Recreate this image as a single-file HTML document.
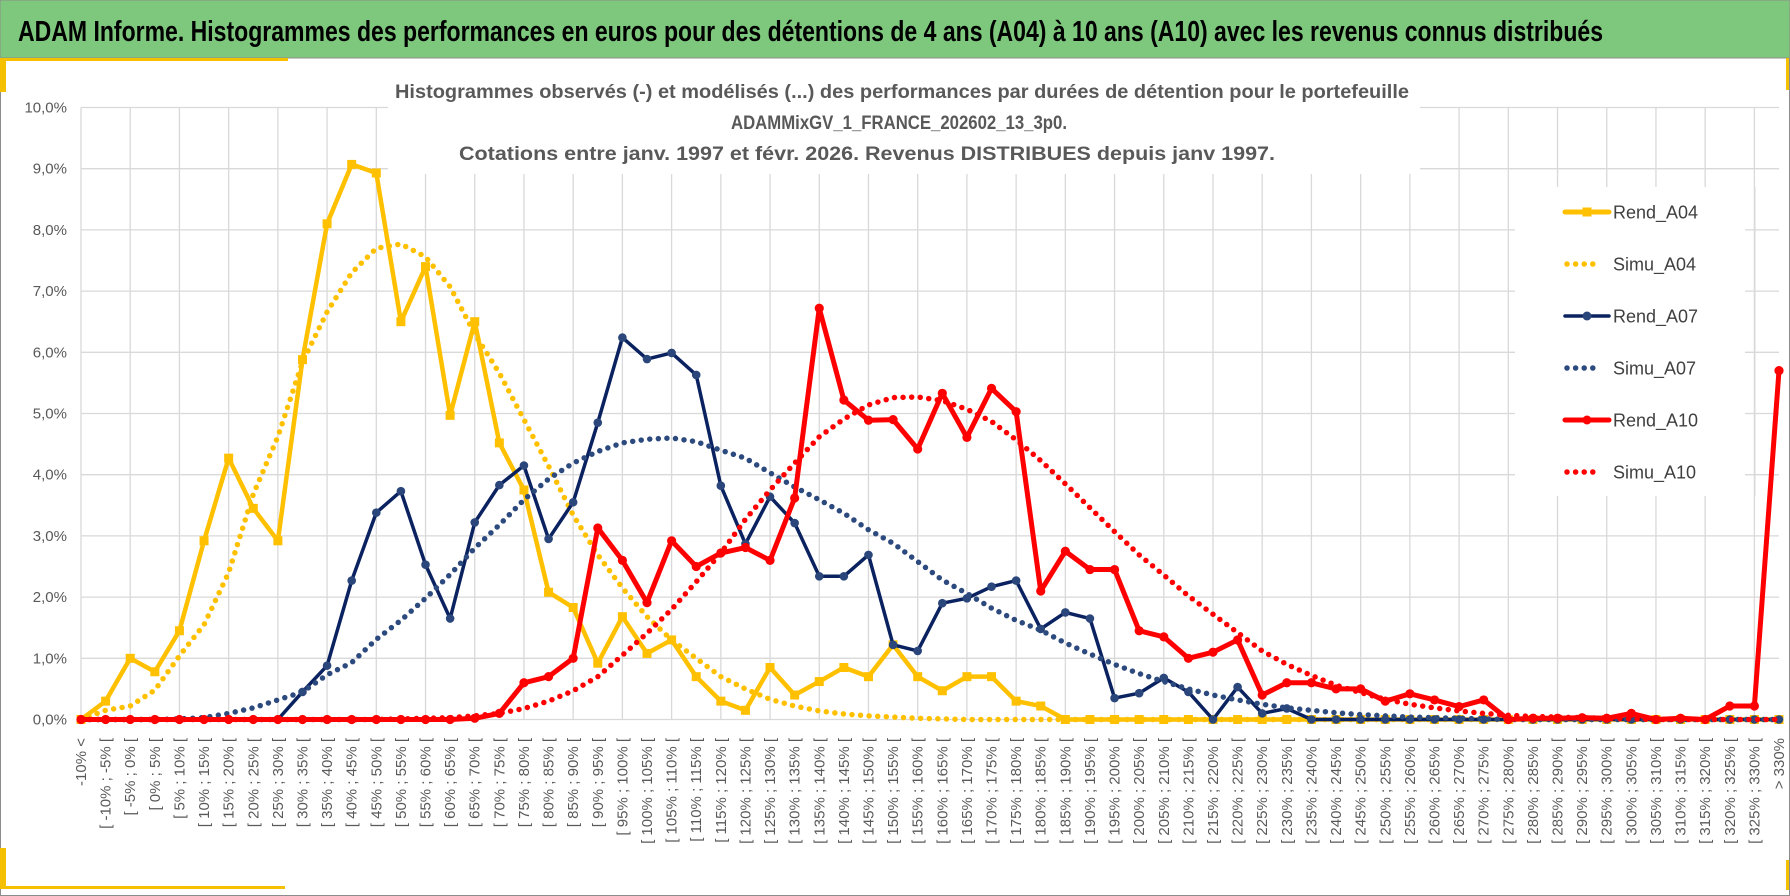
<!DOCTYPE html>
<html><head><meta charset="utf-8"><style>
html,body{margin:0;padding:0;background:#fff;}
svg{display:block;font-family:"Liberation Sans",sans-serif;}
</style></head><body>
<svg id="chart" width="1790" height="896" viewBox="0 0 1790 896">
  <rect x="0.5" y="0.5" width="1789" height="895" fill="#fff" stroke="#8c8c8c"/>
  <rect x="0" y="0" width="1790" height="58" fill="#7ec87d" stroke="#8c8c8c"/>
  <text x="18" y="41" font-size="29" font-weight="bold" fill="#000" textLength="1585" lengthAdjust="spacingAndGlyphs">ADAM Informe. Histogrammes des performances en euros pour des détentions de 4 ans (A04) à 10 ans (A10) avec les revenus connus distribués</text>
  <rect x="0" y="58" width="288" height="3" fill="#f5c000"/>
  <rect x="0" y="58" width="6" height="34" fill="#f5c000"/>
  <rect x="0" y="886" width="285" height="3" fill="#f5c000"/>
  <rect x="0" y="848" width="6" height="40" fill="#f5c000"/>
  <rect x="1786" y="58" width="3" height="32" fill="#f5c000"/>
  <rect x="1786" y="860" width="3" height="30" fill="#f5c000"/>
  <g id="grid"></g>
  <g id="yticks"></g>
  <g id="xticks"></g>
  <rect x="388" y="76" width="1032" height="98" fill="#fff"/>
  <g font-size="19" font-weight="bold" fill="#595959" text-anchor="middle">
    <text x="902" y="98" textLength="1014" lengthAdjust="spacingAndGlyphs">Histogrammes observés (-) et modélisés (...) des performances par durées de détention pour le portefeuille</text>
    <text x="899" y="129" textLength="336" lengthAdjust="spacingAndGlyphs">ADAMMixGV_1_FRANCE_202602_13_3p0.</text>
    <text x="867" y="160" textLength="816" lengthAdjust="spacingAndGlyphs">Cotations entre janv. 1997 et févr. 2026. Revenus DISTRIBUES depuis janv 1997.</text>
  </g>
  <rect x="1515" y="187" width="230" height="309" fill="#fff"/>
  <line x1="1755" y1="187" x2="1755" y2="496" stroke="#d9d9d9" stroke-width="1"/>
  <g id="series"></g>
  <g id="legend"></g>
</svg>
<script>
const categories = ["-10% <","[ -10% ; -5% [","[ -5% ; 0% [","[ 0% ; 5% [","[ 5% ; 10% [","[ 10% ; 15% [","[ 15% ; 20% [","[ 20% ; 25% [","[ 25% ; 30% [","[ 30% ; 35% [","[ 35% ; 40% [","[ 40% ; 45% [","[ 45% ; 50% [","[ 50% ; 55% [","[ 55% ; 60% [","[ 60% ; 65% [","[ 65% ; 70% [","[ 70% ; 75% [","[ 75% ; 80% [","[ 80% ; 85% [","[ 85% ; 90% [","[ 90% ; 95% [","[ 95% ; 100% [","[ 100% ; 105% [","[ 105% ; 110% [","[ 110% ; 115% [","[ 115% ; 120% [","[ 120% ; 125% [","[ 125% ; 130% [","[ 130% ; 135% [","[ 135% ; 140% [","[ 140% ; 145% [","[ 145% ; 150% [","[ 150% ; 155% [","[ 155% ; 160% [","[ 160% ; 165% [","[ 165% ; 170% [","[ 170% ; 175% [","[ 175% ; 180% [","[ 180% ; 185% [","[ 185% ; 190% [","[ 190% ; 195% [","[ 195% ; 200% [","[ 200% ; 205% [","[ 205% ; 210% [","[ 210% ; 215% [","[ 215% ; 220% [","[ 220% ; 225% [","[ 225% ; 230% [","[ 230% ; 235% [","[ 235% ; 240% [","[ 240% ; 245% [","[ 245% ; 250% [","[ 250% ; 255% [","[ 255% ; 260% [","[ 260% ; 265% [","[ 265% ; 270% [","[ 270% ; 275% [","[ 275% ; 280% [","[ 280% ; 285% [","[ 285% ; 290% [","[ 290% ; 295% [","[ 295% ; 300% [","[ 300% ; 305% [","[ 305% ; 310% [","[ 310% ; 315% [","[ 315% ; 320% [","[ 320% ; 325% [","[ 325% ; 330% [","> 330%"];
const yTicks = [0,1,2,3,4,5,6,7,8,9,10];
const yTickLabels = ["0,0%","1,0%","2,0%","3,0%","4,0%","5,0%","6,0%","7,0%","8,0%","9,0%","10,0%"];
const rendA04 = [0,0.3,1.0,0.78,1.45,2.92,4.27,3.45,2.92,5.88,8.1,9.07,8.93,6.5,7.4,4.97,6.5,4.52,3.75,2.08,1.83,0.92,1.68,1.08,1.3,0.7,0.3,0.15,0.85,0.4,0.62,0.85,0.7,1.22,0.7,0.47,0.7,0.7,0.3,0.22,0,0,0,0,0,0,0,0,0,0,0,0,0,0,0,0,0,0,0,0,0,0,0,0,0,0,0,0,0,0];
const simuA04 = [0,0.15,0.22,0.48,1.04,1.55,2.4,3.68,4.62,5.84,6.66,7.3,7.7,7.77,7.56,7.07,6.3,5.66,4.9,4.14,3.34,2.69,2.15,1.68,1.3,1.0,0.7,0.5,0.33,0.22,0.14,0.09,0.06,0.04,0.02,0.01,0,0,0,0,0,0,0,0,0,0,0,0,0,0,0,0,0,0,0,0,0,0,0,0,0,0,0,0,0,0,0,0,0,0];
const rendA07 = [0,0,0,0,0,0,0,0,0,0.45,0.88,2.27,3.38,3.73,2.53,1.65,3.22,3.83,4.15,2.95,3.55,4.85,6.24,5.89,5.99,5.63,3.82,2.87,3.64,3.21,2.34,2.34,2.69,1.22,1.12,1.9,1.98,2.17,2.27,1.48,1.75,1.65,0.35,0.43,0.68,0.45,0,0.53,0.1,0.18,0,0,0,0,0,0,0,0,0,0,0,0,0,0,0,0,0,0,0,0];
const simuA07 = [0,0,0,0,0.01,0.03,0.1,0.19,0.32,0.45,0.73,0.93,1.31,1.62,1.98,2.37,2.8,3.18,3.59,3.93,4.19,4.38,4.52,4.58,4.6,4.54,4.4,4.27,4.03,3.8,3.59,3.37,3.1,2.88,2.58,2.28,2.06,1.82,1.62,1.46,1.25,1.07,0.9,0.75,0.62,0.5,0.4,0.32,0.25,0.19,0.15,0.11,0.08,0.06,0.04,0.03,0.02,0.01,0,0,0,0,0,0,0,0,0,0,0,0];
const rendA10 = [0,0,0,0,0,0,0,0,0,0,0,0,0,0,0,0,0.02,0.1,0.6,0.7,1.0,3.13,2.6,1.91,2.92,2.5,2.72,2.81,2.6,3.62,6.72,5.22,4.89,4.9,4.42,5.33,4.61,5.41,5.03,2.1,2.75,2.45,2.45,1.45,1.35,1.0,1.1,1.3,0.4,0.6,0.6,0.5,0.5,0.3,0.42,0.32,0.21,0.32,0,0.02,0.02,0.03,0.02,0.1,0,0.02,0,0.22,0.22,5.7];
const simuA10 = [0,0,0,0,0,0,0,0,0,0,0,0,0,0.01,0.02,0.03,0.06,0.1,0.18,0.3,0.47,0.7,1.05,1.41,1.8,2.25,2.72,3.27,3.75,4.19,4.62,4.91,5.14,5.26,5.27,5.21,5.07,4.87,4.57,4.23,3.85,3.46,3.07,2.69,2.36,2.02,1.72,1.42,1.12,0.9,0.72,0.56,0.44,0.33,0.25,0.19,0.14,0.1,0.07,0.05,0.04,0.03,0.02,0.01,0,0,0,0,0,0];

const NS = "http://www.w3.org/2000/svg";
const X0 = 81, X1 = 1779, Y0 = 719.5, YPER = 61.2;
function xPos(i){ return X0 + i * (X1 - X0) / (categories.length - 1); }
function yPos(v){ return Y0 - v * YPER; }
function mk(tag, attrs, parent){
  const e = document.createElementNS(NS, tag);
  for (const k in attrs) e.setAttribute(k, attrs[k]);
  parent.appendChild(e);
  return e;
}
const grid = document.getElementById('grid');
yTicks.forEach(function(t){
  const l = mk('line', {x1:X0, x2:X1, y1:yPos(t), y2:yPos(t), stroke:'#d9d9d9', 'stroke-width':1.3}, grid);
  
  
});
categories.forEach(function(c, i){
  if (i % 2 === 0) {
    const l = mk('line', {x1:xPos(i), x2:xPos(i), y1:yPos(10), y2:Y0, stroke:'#d9d9d9', 'stroke-width':1.3}, grid);
    
    
  }
});
const yt = document.getElementById('yticks');
yTicks.forEach(function(t, k){
  const tx = mk('text', {x:67, y:yPos(t)+5, 'text-anchor':'end', 'font-size':15, fill:'#595959'}, yt);
  tx.textContent = yTickLabels[k];
  
  
});
const xt = document.getElementById('xticks');
categories.forEach(function(c, i){
  const tx = mk('text', {transform:'translate(' + (xPos(i)+5) + ',738) rotate(-90)', 'text-anchor':'end', 'font-size':15, fill:'#595959'}, xt);
  tx.textContent = c;
  
  
});
function pathD(arr){ return arr.map(function(v,i){ return (i?'L':'M') + xPos(i).toFixed(2) + ',' + yPos(v).toFixed(2); }).join(' '); }
const sg = document.getElementById('series');
function solid(arr, color, w, marker, mcolor, name){
  const g = mk('g', {}, sg);
  
  
  mk('path', {d:pathD(arr), fill:'none', stroke:color, 'stroke-width':w, 'stroke-linejoin':'round'}, g);
  arr.forEach(function(v,i){
    let m;
    if (marker === 'square') m = mk('rect', {x:xPos(i)-4.5, y:yPos(v)-4.5, width:9, height:9, fill:mcolor}, g);
    else m = mk('circle', {cx:xPos(i), cy:yPos(v), r:marker, fill:mcolor}, g);
    
    
  });
}
function dotted(arr, color, name){
  const p = mk('path', {d:pathD(arr), fill:'none', stroke:color, 'stroke-width':5.5, 'stroke-linecap':'round', 'stroke-dasharray':'0 8.6'}, sg);
  
  
}
solid(rendA04, '#ffc000', 4.5, 'square', '#ffc000', 'series-rend-a04');
dotted(simuA04, '#ffc000', 'series-simu-a04');
solid(rendA07, '#0b2260', 3.5, 4.3, '#2a467a', 'series-rend-a07');
dotted(simuA07, '#2c4a7e', 'series-simu-a07');
solid(rendA10, '#ff0000', 5, 4.6, '#ff0000', 'series-rend-a10');
dotted(simuA10, '#ff0000', 'series-simu-a10');

const legendNames = ["Rend_A04","Simu_A04","Rend_A07","Simu_A07","Rend_A10","Simu_A10"];
const legendColors = ["#ffc000","#ffc000","#0b2260","#2c4a7e","#ff0000","#ff0000"];
const legendY = [212,264,316,368,420,472];
const lg = document.getElementById('legend');
legendNames.forEach(function(n, k){
  const g = mk('g', {}, lg);
  
  
  const y = legendY[k];
  if (k % 2 === 0) {
    mk('line', {x1:1565, x2:1609, y1:y, y2:y, stroke:legendColors[k], 'stroke-width':k===2?3.5:5, 'stroke-linecap':'round'}, g);
    if (k === 0) mk('rect', {x:1582.5, y:y-4.5, width:9, height:9, fill:legendColors[k]}, g);
    else mk('circle', {cx:1587, cy:y, r:4.5, fill:k===2?'#2a467a':legendColors[k]}, g);
  } else {
    mk('line', {x1:1567, x2:1600, y1:y, y2:y, stroke:legendColors[k], 'stroke-width':5.5, 'stroke-linecap':'round', 'stroke-dasharray':'0 8.6'}, g);
  }
  const t = mk('text', {x:1613, y:y+6.5, 'font-size':18, fill:'#404040'}, g);
  t.textContent = n;
});
</script>
</body></html>
